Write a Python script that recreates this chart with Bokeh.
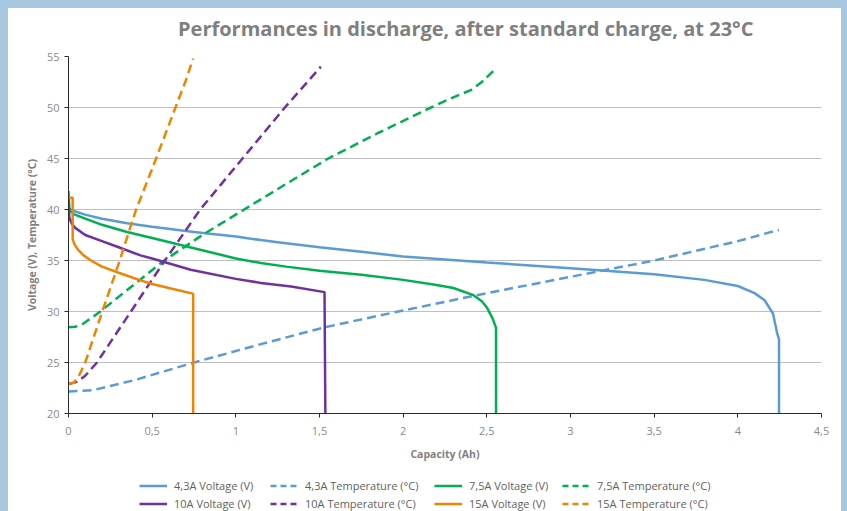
from bokeh.plotting import figure
from bokeh.layouts import column
from bokeh.models import Range1d, FixedTicker, Legend, LegendItem, GlobalInlineStyleSheet, Div
from bokeh.embed import file_html
from bokeh.resources import INLINE

# ---------------- data ----------------
title_text = "Performances in discharge, after standard charge, at 23°C"
# 4,3A
v43_x = [0, 0.05, 0.1, 0.2, 0.35, 0.5, 0.75, 1.0, 1.15, 1.25, 1.5, 1.75, 2.0, 2.5, 3.0,
         3.5, 3.8, 4.0, 4.1, 4.16, 4.21, 4.236, 4.246, 4.246]
v43_y = [40.1, 39.75, 39.5, 39.1, 38.65, 38.3, 37.8, 37.35, 37.0, 36.8, 36.3, 35.85, 35.4, 34.8, 34.25,
         33.65, 33.1, 32.5, 31.8, 31.1, 29.8, 27.8, 27.3, 20.0]
t43_x = [0, 0.15, 0.4, 0.75, 1.15, 1.53, 2.0, 2.5, 3.0, 3.5, 4.0, 4.245]
t43_y = [22.15, 22.3, 23.3, 25.0, 26.8, 28.45, 30.1, 31.8, 33.4, 35.0, 36.9, 38.0]
# 7,5A
v75_x = [0, 0.005, 0.03, 0.1, 0.2, 0.35, 0.5, 0.75, 1.0, 1.15, 1.3, 1.5, 1.75, 2.0, 2.2,
         2.3, 2.42, 2.47, 2.5, 2.535, 2.555, 2.555]
v75_y = [41.8, 40.0, 39.55, 39.1, 38.5, 37.8, 37.2, 36.2, 35.2, 34.75, 34.4, 34.0, 33.6, 33.1, 32.6,
         32.3, 31.6, 31.0, 30.4, 29.3, 28.4, 20.0]
t75_x = [0, 0.04, 0.08, 0.19, 0.35, 0.572, 0.8, 1.05, 1.3, 1.552, 1.85, 2.166, 2.3, 2.404, 2.47, 2.54]
t75_y = [28.45, 28.5, 28.7, 30.0, 32.1, 35.0, 37.5, 40.0, 42.5, 45.0, 47.5, 50.0, 51.0, 51.7, 52.5, 53.6]
# 10A
v10_x = [0, 0.005, 0.02, 0.04, 0.1, 0.2, 0.3, 0.43, 0.5, 0.73, 1.0, 1.15, 1.33, 1.53, 1.535]
v10_y = [41.2, 39.2, 38.6, 38.2, 37.5, 36.9, 36.3, 35.5, 35.2, 34.1, 33.2, 32.8, 32.45, 31.9, 20.0]
t10_x = [0, 0.05, 0.1, 0.17, 0.373, 0.576, 0.787, 1.04, 1.293, 1.508]
t10_y = [22.9, 23.1, 23.7, 25.0, 30.0, 35.0, 40.0, 45.0, 50.0, 54.0]
# 15A
v15_x = [0, 0.025, 0.025, 0.035, 0.055, 0.09, 0.134, 0.2, 0.3, 0.43, 0.5, 0.6, 0.742, 0.745, 0.745]
v15_y = [41.15, 41.15, 37.1, 36.6, 36.1, 35.5, 35.0, 34.4, 33.8, 33.05, 32.7, 32.3, 31.75, 31.7, 20.0]
t15_x = [0, 0.03, 0.06, 0.1, 0.2, 0.3, 0.4, 0.5, 0.6, 0.7, 0.745]
t15_y = [22.9, 23.0, 23.6, 25.0, 29.9, 34.7, 39.8, 44.0, 48.3, 52.6, 54.8]

x_ticks = [0, 0.5, 1, 1.5, 2, 2.5, 3, 3.5, 4, 4.5]
x_tick_labels = ["0", "0,5", "1", "1,5", "2", "2,5", "3", "3,5", "4", "4,5"]
y_ticks = [20, 25, 30, 35, 40, 45, 50, 55]

series = [
    ("4,3A Voltage (V)", v43_x, v43_y, "#5b9bd5", False),
    ("4,3A Temperature (°C)", t43_x, t43_y, "#5b9bd5", True),
    ("7,5A Voltage (V)", v75_x, v75_y, "#00b050", False),
    ("7,5A Temperature (°C)", t75_x, t75_y, "#00b050", True),
    ("10A Voltage (V)", v10_x, v10_y, "#7030a0", False),
    ("10A Temperature (°C)", t10_x, t10_y, "#7030a0", True),
    ("15A Voltage (V)", v15_x, v15_y, "#f08300", False),
    ("15A Temperature (°C)", t15_x, t15_y, "#f08300", True),
]

FONT = "Open Sans"

# title strip
title_div = Div(
    text=('<div style="padding:7px 0 0 170px;line-height:27px;font-family:\'Open Sans\';'
          'font-size:20px;font-weight:bold;color:#7f7f7f;white-space:nowrap;">'
          + title_text + '</div>'),
    width=833, height=34, margin=0)

p = figure(width=833, height=436, output_backend="svg", toolbar_location=None, title=None,
           x_range=Range1d(0, 4.5), y_range=Range1d(20, 55),
           min_border_left=60, min_border_right=20, min_border_top=14, min_border_bottom=65,
           background_fill_color="white", border_fill_color="white")
p.outline_line_color = None

p.xgrid.visible = False
p.ygrid.grid_line_color = "#bfbfbf"
p.ygrid.grid_line_width = 1

for ax in (p.xaxis[0], p.yaxis[0]):
    ax.axis_line_color = "#2b2b2b"
    ax.major_tick_line_color = "#2b2b2b"
    ax.major_tick_out = 4
    ax.major_tick_in = 0
    ax.minor_tick_line_color = None
    ax.major_label_text_font = FONT
    ax.major_label_text_font_size = "11px"
    ax.major_label_text_color = "#8a8a8a"
    ax.axis_label_text_font = FONT
    ax.axis_label_text_font_size = "10.5px"
    ax.axis_label_text_font_style = "bold"
    ax.axis_label_text_color = "#7f7f7f"

p.xaxis.ticker = FixedTicker(ticks=x_ticks)
p.xaxis.major_label_overrides = {t: l for t, l in zip(x_ticks, x_tick_labels)}
p.xaxis.major_label_standoff = 9
p.xaxis.axis_label = "Capacity (Ah)"
p.xaxis.axis_label_standoff = 9

p.yaxis.ticker = FixedTicker(ticks=y_ticks)
p.yaxis.major_label_standoff = 5
p.yaxis.axis_label = "Voltage (V), Temperature (°C)"
p.yaxis.axis_label_standoff = 5

for label, xs, ys, color, dashed in series:
    p.line(xs, ys, line_color=color, line_width=2.5,
           line_dash="9 5" if dashed else "solid")

# legend strip below the chart (same series, lines kept outside its visible range)
leg = figure(width=833, height=33, output_backend="svg", toolbar_location=None,
             x_range=Range1d(0, 1), y_range=Range1d(0, 1),
             x_axis_type=None, y_axis_type=None,
             min_border_left=0, min_border_right=0, min_border_top=0, min_border_bottom=0,
             background_fill_color="white", border_fill_color="white")
leg.outline_line_color = None
leg.grid.visible = False
leg_r = {}
for label, xs, ys, color, dashed in series:
    leg_r[label] = leg.line(xs, ys, line_color=color, line_width=2.5,
                            line_dash="6 4" if dashed else "solid")

columns = [
    (["4,3A Voltage (V)", "10A Voltage (V)"], 71),
    (["4,3A Temperature (°C)", "10A Temperature (°C)"], 202),
    (["7,5A Voltage (V)", "15A Voltage (V)"], 366),
    (["7,5A Temperature (°C)", "15A Temperature (°C)"], 494),
]
for labels, xoff in columns:
    lg = Legend(items=[LegendItem(label=l, renderers=[leg_r[l]]) for l in labels],
                location=(xoff, 0), orientation="vertical", padding=0, margin=0,
                spacing=3, glyph_width=28, glyph_height=15, label_height=15,
                label_standoff=7, border_line_alpha=0, background_fill_alpha=0,
                label_text_font=FONT, label_text_font_size="11px",
                label_text_color="#5f5f5f")
    leg.add_layout(lg)

layout = column(title_div, p, leg, spacing=0, styles={"background-color": "white"})
layout.stylesheets = [GlobalInlineStyleSheet(
    css="html,body{background:#a8c7e0 !important;overflow:hidden;}"
        "body{margin:0 !important;padding:8px 0 0 8px !important;}")]

open("out.html", "w").write(file_html(layout, INLINE))
